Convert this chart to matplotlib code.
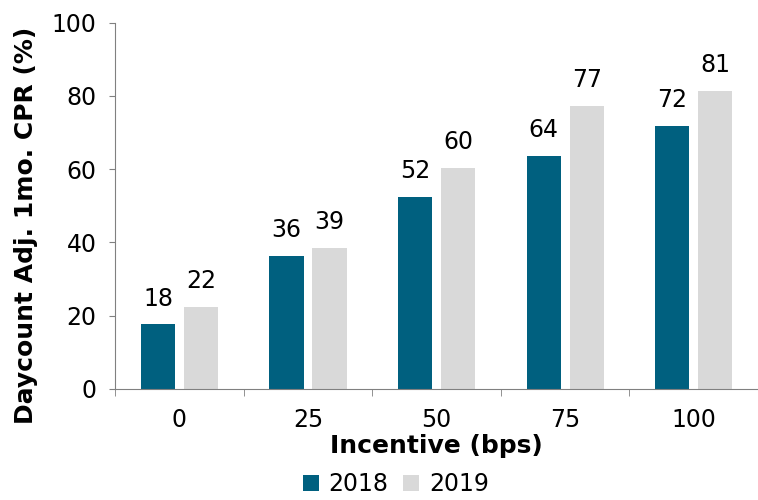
import matplotlib.pyplot as plt
import numpy as np

# data
categories = ['0', '25', '50', '75', '100']
cpr_2018 = [17.6, 36.2, 52.3, 63.6, 71.7]
cpr_2019 = [22.4, 38.6, 60.4, 77.3, 81.4]
labels_2018 = ['18', '36', '52', '64', '72']
labels_2019 = ['22', '39', '60', '77', '81']

plt.rcParams['font.family'] = ['DejaVu Sans']

fig = plt.figure(figsize=(7.58, 5), dpi=100)
ax = fig.add_axes([0.152, 0.222, 0.848, 0.733])

x = np.arange(len(categories))
w = 0.266
off = 0.167
b1 = ax.bar(x - off, cpr_2018, w, color='#00607F', label='2018')
b2 = ax.bar(x + off, cpr_2019, w, color='#D9D9D9', label='2019')

for bars, labs in ((b1, labels_2018), (b2, labels_2019)):
    for rect, lab in zip(bars, labs):
        ax.annotate(lab, xy=(rect.get_x() + rect.get_width() / 2, rect.get_height()),
                    xytext=(0, 10), textcoords='offset points',
                    ha='center', va='bottom', fontsize=17)

ax.set_xlim(-0.5, len(categories) - 0.5)
ax.set_ylim(0, 100)
ax.set_yticks(range(0, 101, 20))
ax.set_xticks(x)
ax.set_xticklabels(categories)
ax.set_xticks(np.arange(-0.5, len(categories)), minor=True)
ax.tick_params(axis='x', which='major', length=0, labelsize=17, pad=14)
ax.tick_params(axis='x', which='minor', length=5, color='#808080', direction='out')
ax.tick_params(axis='y', length=4.5, color='#808080', labelsize=17, direction='out', pad=9)

ax.spines['right'].set_visible(False)
ax.spines['top'].set_visible(False)
ax.spines['left'].set_color('#808080')
ax.spines['bottom'].set_color('#808080')

ax.set_ylabel('Daycount Adj. 1mo. CPR (%)', fontsize=18, fontweight='bold')
ax.yaxis.set_label_coords(-0.12, 0.447)
ax.set_xlabel('Incentive (bps)', fontsize=18, fontweight='bold', labelpad=1)

fig.legend(handles=[b1, b2], loc='lower center', bbox_to_anchor=(0.522, -0.035), ncol=2,
           frameon=False, fontsize=17, handlelength=0.7, handleheight=0.7,
           handletextpad=0.4, columnspacing=0.6)

fig.savefig('out.png', dpi=100)
